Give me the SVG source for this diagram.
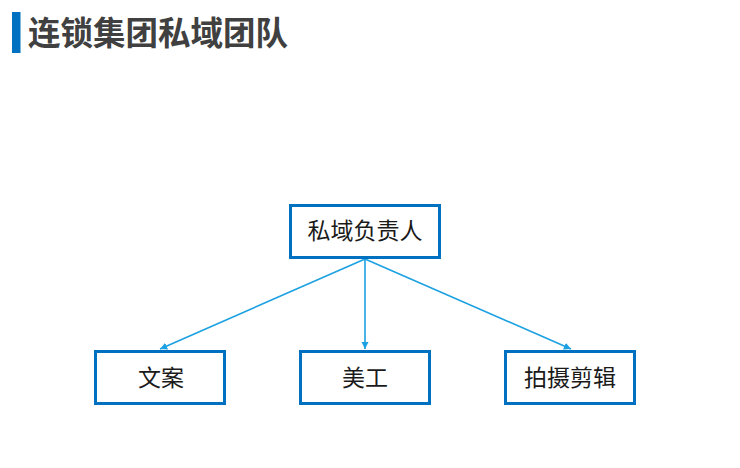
<svg xmlns="http://www.w3.org/2000/svg" width="740" height="468" viewBox="0 0 740 468">
<style>
.box{fill:#ffffff;stroke:#0070C0;stroke-width:3}
.lbl{font-family:"Noto Sans CJK SC","Liberation Sans",sans-serif;font-size:23px;fill:#1a1a1a;text-anchor:middle}
.con{stroke:#1BA1E2;stroke-width:1.6;fill:none;marker-end:url(#ah)}
</style>
<defs>
<marker id="ah" viewBox="0 0 10 10" refX="10" refY="5" markerWidth="4.5" markerHeight="4.5" markerUnits="strokeWidth" orient="auto">
<path d="M0,0 L10,5 L0,10 z" fill="#1BA1E2"/>
</marker>
</defs>
<rect width="740" height="468" fill="#ffffff"/>
<g id="title">
<rect x="12" y="12" width="8.5" height="41" fill="#0070C0"/>
<text x="28" y="45" font-family="Noto Sans CJK SC,Liberation Sans,sans-serif" font-size="32.5" font-weight="bold" fill="#404040">连锁集团私域团队</text>
</g>
<g id="connectors">
<line class="con" x1="365" y1="259" x2="160" y2="349"/>
<line class="con" x1="365" y1="259" x2="365" y2="349"/>
<line class="con" x1="365" y1="259" x2="571" y2="349"/>
</g>
<g id="node-head">
<rect class="box" x="290.5" y="205.5" width="149" height="52"/>
<text class="lbl" x="365" y="239">私域负责人</text>
</g>
<g id="node-copy">
<rect class="box" x="95.5" y="351.5" width="129" height="52"/>
<text class="lbl" x="161" y="386">文案</text>
</g>
<g id="node-design">
<rect class="box" x="300.5" y="351.5" width="129" height="52"/>
<text class="lbl" x="365" y="386">美工</text>
</g>
<g id="node-video">
<rect class="box" x="505.5" y="351.5" width="129" height="52"/>
<text class="lbl" x="570" y="386">拍摄剪辑</text>
</g>
</svg>
